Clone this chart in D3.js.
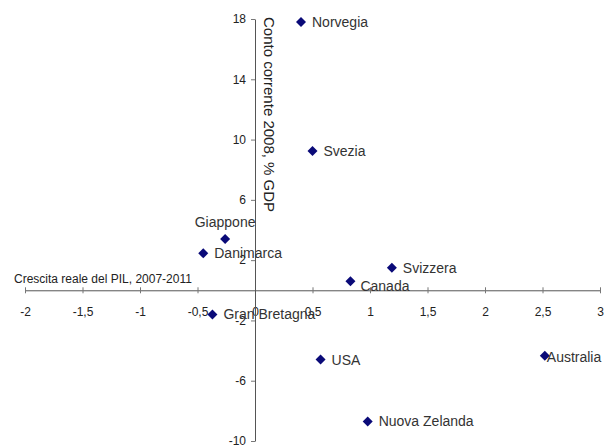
<!DOCTYPE html>
<html>
<head>
<meta charset="utf-8">
<style>
  body { margin: 0; background: #fff; }
  svg text { font-family: "Liberation Sans", Arial, sans-serif; }
</style>
</head>
<body>
<script src="https://cdn.jsdelivr.net/npm/d3@7"></script>
<script>
  const width = 606
  const height = 448

  // data
  const countries = ["Norvegia", "Svezia", "Giappone", "Danimarca", "Svizzera", "Canada", "Gran Bretagna", "USA", "Australia", "Nuova Zelanda"]
  const growth = [0.40, 0.50, -0.26, -0.45, 1.19, 0.83, -0.37, 0.57, 2.52, 0.98]   // crescita PIL 2007-2011
  const account = [17.8, 9.25, 3.4, 2.45, 1.5, 0.6, -1.6, -4.6, -4.35, -8.7]      // conto corrente 2008
  const xTicks = [-2, -1.5, -1, -0.5, 0, 0.5, 1, 1.5, 2, 2.5, 3]
  const yTicks = [-10, -6, -2, 2, 6, 10, 14, 18]

  // where each label sits relative to its marker
  const labelPlace = {
    "Giappone": { dx: 0, dy: -17, anchor: "middle" },
    "Canada": { dx: 10, dy: 5, anchor: "start" },
    "Australia": { dx: 2, dy: 1, anchor: "start" }
  }

  const x = d3.scaleLinear().domain([-2, 3]).range([25, 600])
  const y = d3.scaleLinear().domain([-10, 18]).range([441, 19])

  const svg = d3.select("body").append("svg")
    .attr("width", width)
    .attr("height", height)

  const fmt = d => String(d).replace(".", ",")

  // x axis crossing at y = 0
  const xAxis = svg.append("g")
    .attr("transform", `translate(0, ${y(0)})`)
    .call(d3.axisBottom(x).tickValues(xTicks).tickFormat(fmt).tickSizeInner(3).tickSizeOuter(0).tickPadding(14))
  xAxis.selectAll(".tick line").attr("y1", -3)

  // y axis crossing at x = 0
  const yAxis = svg.append("g")
    .attr("transform", `translate(${x(0)}, 0)`)
    .call(d3.axisLeft(y).tickValues(yTicks).tickFormat(fmt).tickSizeInner(4).tickSizeOuter(0).tickPadding(5))

  svg.selectAll(".domain").attr("stroke", "#555")
  svg.selectAll(".tick line").attr("stroke", "#777")
  svg.selectAll(".tick text")
    .attr("font-size", 12)
    .attr("fill", "#222")
    .attr("font-family", "\"Liberation Sans\", Arial, sans-serif")

  svg.append("text")
    .attr("x", 14)
    .attr("y", y(0) - 7)
    .attr("font-size", 12)
    .attr("fill", "#222")
    .text("Crescita reale del PIL, 2007-2011")

  svg.append("text")
    .attr("transform", `translate(${x(0) + 9}, 17) rotate(90)`)
    .attr("font-size", 15)
    .attr("fill", "#222")
    .text("Conto corrente 2008, % GDP")

  const points = countries.map((name, i) => ({ name, gx: growth[i], ca: account[i] }))

  const diamond = "M0,-5L5,0L0,5L-5,0Z"

  svg.append("g").selectAll("path")
    .data(points)
    .join("path")
    .attr("d", diamond)
    .attr("transform", d => `translate(${x(d.gx)}, ${y(d.ca)})`)
    .attr("fill", "#0a0a78")

  svg.append("g").selectAll("text")
    .data(points)
    .join("text")
    .attr("x", d => x(d.gx) + (labelPlace[d.name] ? labelPlace[d.name].dx : 11))
    .attr("y", d => y(d.ca) + (labelPlace[d.name] ? labelPlace[d.name].dy : 0))
    .attr("dy", "0.35em")
    .attr("text-anchor", d => labelPlace[d.name] ? labelPlace[d.name].anchor : "start")
    .attr("font-size", 14)
    .attr("fill", "#333")
    .text(d => d.name)
</script>
</body>
</html>
